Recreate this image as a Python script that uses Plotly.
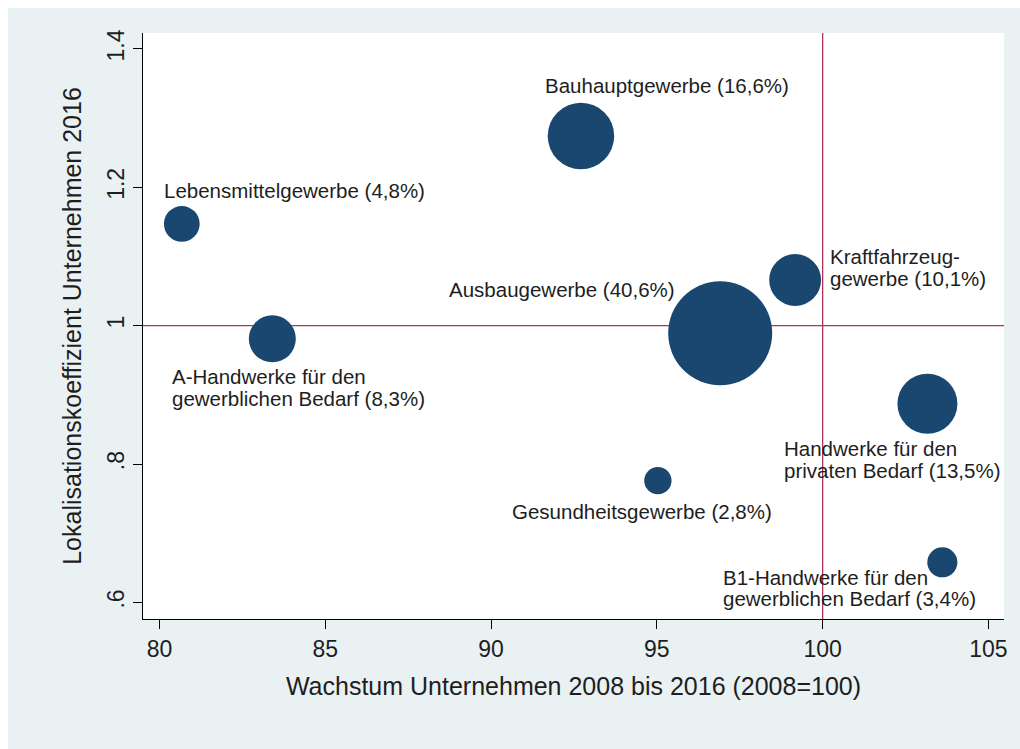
import plotly.graph_objects as go

# ---- data ----
branchen = ["Lebensmittelgewerbe", "A-Handwerke gewerblich", "Bauhauptgewerbe",
            "Ausbaugewerbe", "Gesundheitsgewerbe", "Kraftfahrzeuggewerbe",
            "Handwerke privat", "B1-Handwerke gewerblich"]
wachstum = [80.67, 83.40, 92.71, 96.91, 95.03, 99.17, 103.16, 103.61]
lokalisation = [1.147, 0.981, 1.274, 0.989, 0.776, 1.066, 0.887, 0.658]
anteil = [4.8, 8.3, 16.6, 40.6, 2.8, 10.1, 13.5, 3.4]
label_lines = [
    ["Lebensmittelgewerbe (4,8%)"],
    ["A-Handwerke für den", "gewerblichen Bedarf (8,3%)"],
    ["Bauhauptgewerbe (16,6%)"],
    ["Ausbaugewerbe (40,6%)"],
    ["Gesundheitsgewerbe (2,8%)"],
    ["Kraftfahrzeug-", "gewerbe (10,1%)"],
    ["Handwerke für den", "privaten Bedarf (13,5%)"],
    ["B1-Handwerke für den", "gewerblichen Bedarf (3,4%)"],
]
x_ticks = [80, 85, 90, 95, 100, 105]
y_ticks = [0.6, 0.8, 1.0, 1.2, 1.4]
y_ticktext = [".6", ".8", "1", "1.2", "1.4"]
ref_x = 100
ref_y = 1

# ---- label placement (pixel offsets from bubble centre: dx, dy of first line, anchor) ----
label_pos = [
    (-20, 33, "left"),
    (-102, -38, "left"),
    (-38, 51, "left"),
    (-43, 44, "right"),
    (-148, -31, "left"),
    (33, 23, "left"),
    (-145, -45, "left"),
    (-221, -15, "left"),
]
line_gap = 21.5

FONT = "Arial, Liberation Sans, sans-serif"
NAVY = "#1a476f"
RED = "#b0325e"
BG = "#eaf1f3"
TXT = "#1e1e1e"

max_d = 104
sizeref = 2.0 * max(anteil) / (max_d ** 2)

fig = go.Figure()
fig.add_trace(go.Scatter(
    x=wachstum, y=lokalisation, mode="markers",
    marker=dict(size=anteil, sizemode="area", sizeref=sizeref,
                color=NAVY, line=dict(width=0), opacity=1),
    hoverinfo="skip", showlegend=False,
))

annotations = []
for xi, yi, lines, (dx, dy, anc) in zip(wachstum, lokalisation, label_lines, label_pos):
    for k, line in enumerate(lines):
        annotations.append(dict(
            x=xi, y=yi, xref="x", yref="y", text=line, showarrow=False,
            xanchor=anc, yanchor="middle", xshift=dx, yshift=dy - k * line_gap,
            font=dict(family=FONT, size=20.5, color=TXT),
        ))

shapes = [
    dict(type="line", xref="x", yref="paper", x0=ref_x, x1=ref_x, y0=0, y1=1,
         line=dict(color=RED, width=1.3), layer="below"),
    dict(type="line", xref="paper", yref="y", x0=0, x1=1, y0=ref_y, y1=ref_y,
         line=dict(color=RED, width=1.3), layer="below"),
]

fig.update_layout(
    width=1012, height=741,
    margin=dict(l=135, r=12, t=25, b=130, pad=0),
    paper_bgcolor=BG, plot_bgcolor="white",
    font=dict(family=FONT, color=TXT),
    annotations=annotations, shapes=shapes,
    xaxis=dict(
        range=[79.50, 105.47], tickvals=x_ticks, ticks="outside", ticklen=9,
        tickwidth=1, tickcolor="black", showline=True, linecolor="black", linewidth=1,
        showgrid=False, zeroline=False, tickfont=dict(size=23, color=TXT),
        title=dict(text="Wachstum Unternehmen 2008 bis 2016 (2008=100)",
                   font=dict(size=25, color=TXT), standoff=16),
    ),
    yaxis=dict(
        range=[0.576, 1.423], tickvals=y_ticks, ticktext=y_ticktext, tickangle=-90,
        ticks="outside", ticklen=9, tickwidth=1, tickcolor="black",
        showline=True, linecolor="black", linewidth=1,
        showgrid=False, zeroline=False, tickfont=dict(size=23, color=TXT),
        title=dict(text="Lokalisationskoeffizient Unternehmen 2016",
                   font=dict(size=25, color=TXT), standoff=14),
    ),
)

fig.write_html(
    "out.html",
    post_script="document.body.style.margin='8px 0 0 8px';"
                "document.documentElement.style.overflow='hidden';"
                "document.body.style.overflow='hidden';",
)
